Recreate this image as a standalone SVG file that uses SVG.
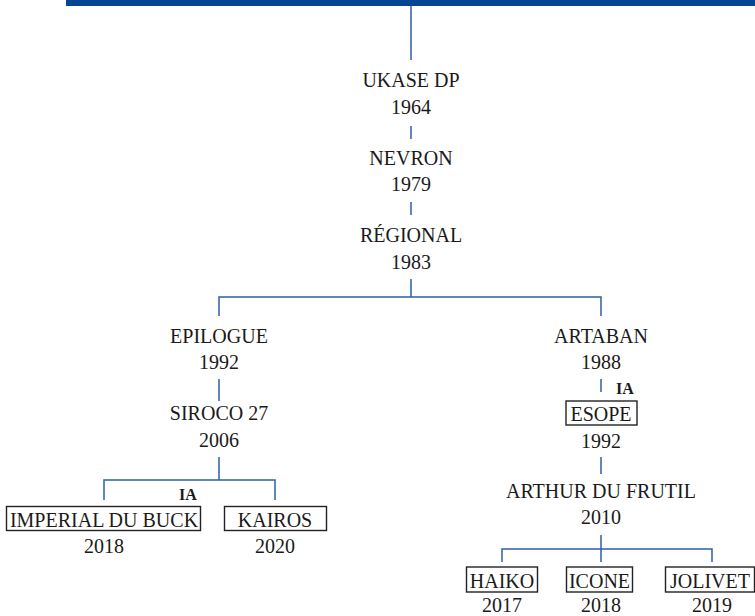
<svg xmlns="http://www.w3.org/2000/svg" width="755" height="616" viewBox="0 0 755 616">
<style>
.t{font-family:"Liberation Serif","DejaVu Serif",serif;font-size:20px;fill:#1a1a1a;text-anchor:middle}
.ia{font-family:"Liberation Serif","DejaVu Serif",serif;font-size:16px;font-weight:bold;fill:#1a1a1a;text-anchor:middle}
.c{fill:none;stroke:#2d5fa8;stroke-width:1.5}
.b{fill:#fff;stroke:#222;stroke-width:1.4}
</style>
<rect x="66" y="0" width="689" height="6" fill="#064494"/>
<g id="connectors">
<path class="c" d="M411 6V60"/>
<path class="c" d="M411 126V139"/>
<path class="c" d="M411 202V215"/>
<path class="c" d="M411 279V297M219 316V297H601V316"/>
<path class="c" d="M219 379V401"/>
<path class="c" d="M219 457V480M104 500V480H275V500"/>
<path class="c" d="M601 379V392"/>
<path class="c" d="M601 457V474"/>
<path class="c" d="M601 535V549M502 562V549H712V562M601 549V562"/>
</g>
<g id="ukase"><text class="t" x="411" y="87">UKASE DP</text><text class="t" x="411" y="114">1964</text></g>
<g id="nevron"><text class="t" x="411" y="165">NEVRON</text><text class="t" x="411" y="191">1979</text></g>
<g id="regional"><text class="t" x="411" y="242">RÉGIONAL</text><text class="t" x="411" y="269">1983</text></g>
<g id="epilogue"><text class="t" x="219" y="343">EPILOGUE</text><text class="t" x="219" y="369">1992</text></g>
<g id="siroco"><text class="t" x="219" y="420">SIROCO 27</text><text class="t" x="219" y="447">2006</text></g>
<g id="imperial"><text class="ia" x="188" y="500">IA</text><rect class="b" x="6.5" y="506.5" width="194" height="24"/><text class="t" x="104" y="527">IMPERIAL DU BUCK</text><text class="t" x="104" y="553">2018</text></g>
<g id="kairos"><rect class="b" x="224.5" y="506.5" width="102" height="24"/><text class="t" x="275" y="527">KAIROS</text><text class="t" x="275" y="553">2020</text></g>
<g id="artaban"><text class="t" x="601" y="343">ARTABAN</text><text class="t" x="601" y="369">1988</text></g>
<g id="esope"><text class="ia" x="625" y="394">IA</text><rect class="b" x="566" y="401" width="71" height="24"/><text class="t" x="601" y="421">ESOPE</text><text class="t" x="601" y="448">1992</text></g>
<g id="arthur"><text class="t" x="601" y="498">ARTHUR DU FRUTIL</text><text class="t" x="601" y="524">2010</text></g>
<g id="haiko"><rect class="b" x="466.5" y="567" width="71" height="25"/><text class="t" x="502" y="588">HAIKO</text><text class="t" x="502" y="612">2017</text></g>
<g id="icone"><rect class="b" x="566.5" y="567" width="66" height="25"/><text class="t" x="599.5" y="588">ICONE</text><text class="t" x="601" y="612">2018</text></g>
<g id="jolivet"><rect class="b" x="665.5" y="567" width="89" height="25"/><text class="t" x="710" y="588">JOLIVET</text><text class="t" x="712" y="612">2019</text></g>
</svg>
